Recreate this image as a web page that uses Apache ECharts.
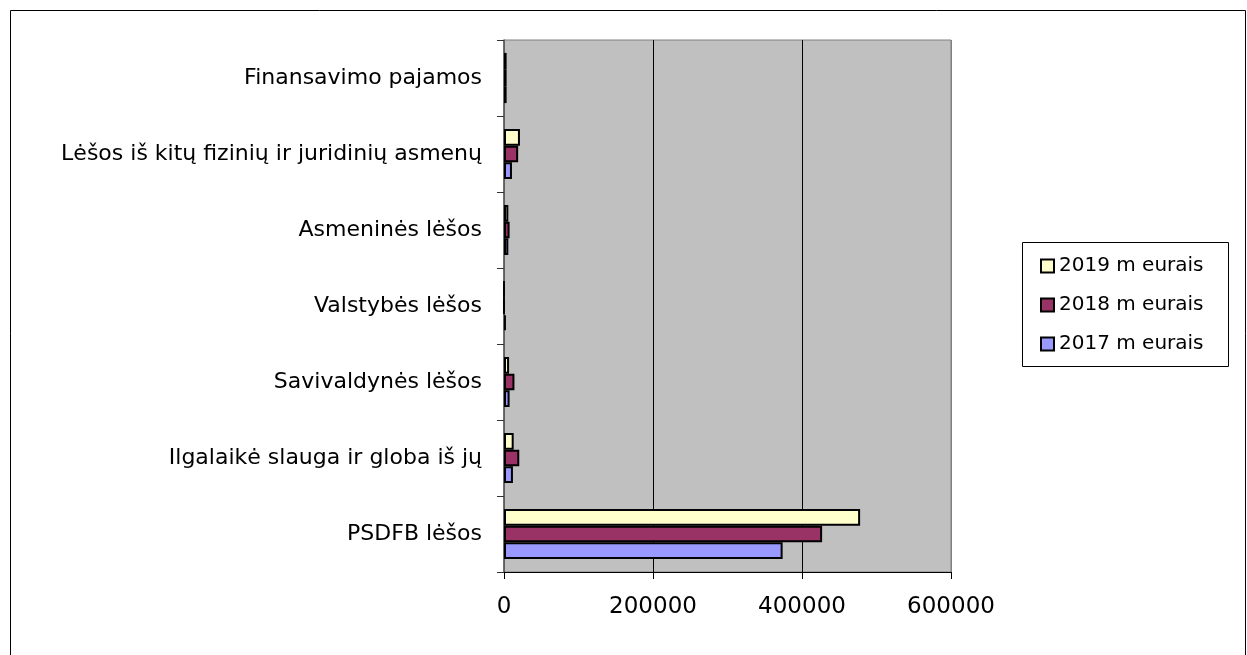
<!DOCTYPE html>
<html>
<head>
<meta charset="utf-8">
<script src="https://cdn.jsdelivr.net/npm/echarts@6/dist/echarts.min.js"></script>
<style>
html,body{margin:0;padding:0;background:#fff;}
#chart{width:1247px;height:655px;}
</style>
</head>
<body>
<div id="chart"></div>
<script>
const categories = [
  'PSDFB lėšos',
  'Ilgalaikė slauga ir globa iš jų',
  'Savivaldynės lėšos',
  'Valstybės lėšos',
  'Asmeninės lėšos',
  'Lėšos iš kitų fizinių ir juridinių asmenų',
  'Finansavimo pajamos'
];
const seriesNames = ['2019 m eurais', '2018 m eurais', '2017 m eurais'];
const values2019 = [478000, 13000, 6800, 0, 5800, 21400, 3500];
const values2018 = [427000, 20500, 14000, 0, 7500, 19000, 3500];
const values2017 = [374000, 12000, 7500, 2500, 5800, 10700, 3500];
const xTicks = [0, 200000, 400000, 600000];
const colors = ['#FFFFCC', '#993366', '#9999FF'];

const FONT = 'DejaVu Sans';
const chart = echarts.init(document.getElementById('chart'), null, {renderer: 'canvas'});
const data = [values2019, values2018, values2017];

chart.setOption({
  backgroundColor: '#ffffff',
  animation: false,
  graphic: [
    {type: 'rect', shape: {x: 10.5, y: 10.5, width: 1235, height: 700},
     style: {fill: 'none', stroke: '#000', lineWidth: 1}, z: 0},
    {type: 'rect', shape: {x: 1022.5, y: 242.5, width: 206, height: 124},
     style: {fill: '#fff', stroke: '#000', lineWidth: 1}, z: 0}
  ],
  grid: {
    left: 504, right: 296, top: 40, bottom: 83,
    show: true, backgroundColor: '#c0c0c0', borderColor: '#808080', borderWidth: 1
  },
  legend: {
    orient: 'vertical',
    left: 1040, top: 256,
    padding: 0,
    itemGap: 19,
    itemWidth: 13, itemHeight: 13,
    icon: 'rect',
    data: seriesNames,
    textStyle: {fontFamily: FONT, fontSize: 20, color: '#000'},
    z: 5
  },
  xAxis: {
    type: 'value',
    min: xTicks[0], max: xTicks[xTicks.length - 1], interval: 200000,
    axisLine: {show: true, lineStyle: {color: '#000', width: 1}},
    axisTick: {show: true, length: 7, lineStyle: {color: '#000'}},
    axisLabel: {fontFamily: FONT, fontSize: 23, color: '#000', margin: 24,
                formatter: v => String(v)},
    splitLine: {show: true, lineStyle: {color: ['#808080', '#000', '#000', '#808080'], width: 1}}
  },
  yAxis: {
    type: 'category',
    data: categories,
    axisLine: {show: true, lineStyle: {color: '#555', width: 1.5}},
    axisTick: {show: true, length: 7, lineStyle: {color: '#333'}},
    axisLabel: {fontFamily: FONT, fontSize: 22, color: '#000', margin: 22, padding: [4, 0, 0, 0]}
  },
  series: seriesNames.map((name, i) => ({
    name: name,
    type: 'bar',
    data: data[i],
    barGap: '0%',
    barCategoryGap: '34%',
    itemStyle: {color: colors[i], borderColor: '#000', borderWidth: 2}
  }))
});
</script>
</body>
</html>
